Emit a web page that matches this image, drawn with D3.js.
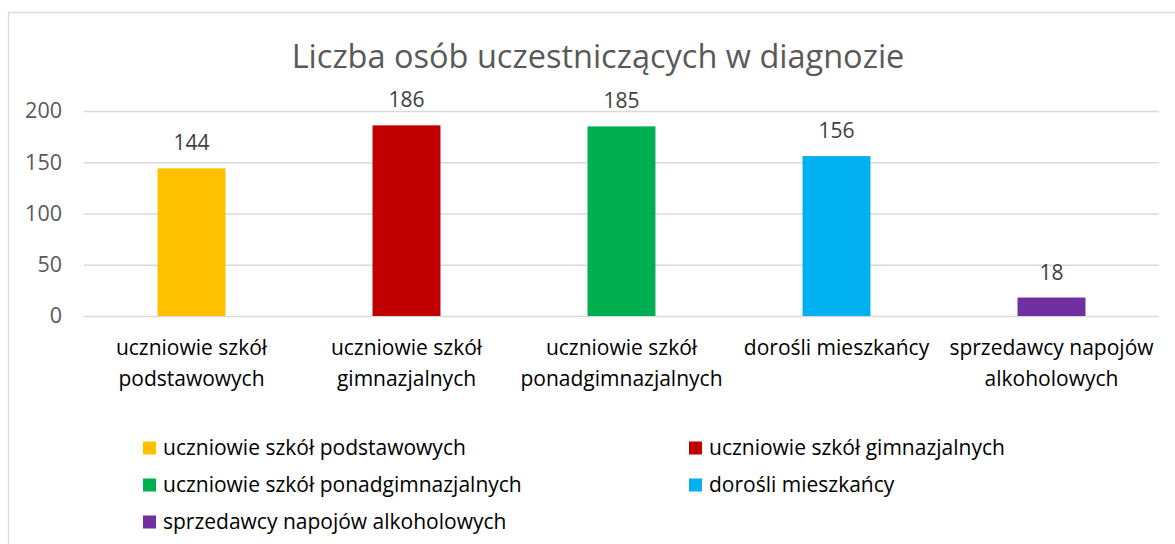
<!DOCTYPE html>
<html>
<head>
<meta charset="utf-8">
<script src="https://d3js.org/d3.v7.min.js"></script>
<style>
  body { margin: 0; background: white; }
  text { font-family: "Open Sans", sans-serif; }
</style>
</head>
<body>
<div id="chart"></div>
<script>
var categories = [
  ["uczniowie szkół", "podstawowych"],
  ["uczniowie szkół", "gimnazjalnych"],
  ["uczniowie szkół", "ponadgimnazjalnych"],
  ["dorośli mieszkańcy"],
  ["sprzedawcy napojów", "alkoholowych"]
];
var legendNames = [
  "uczniowie szkół podstawowych",
  "uczniowie szkół gimnazjalnych",
  "uczniowie szkół ponadgimnazjalnych",
  "dorośli mieszkańcy",
  "sprzedawcy napojów alkoholowych"
];
var values = [144, 186, 185, 156, 18];
var colors = ["#FFC000", "#C00000", "#00B050", "#00B0F0", "#7030A0"];
var yTicks = [0, 50, 100, 150, 200];

function draw()
{
  var width = 1175, height = 544;
  var left = 84, right = 1159, top = 111, bottom = 316;

  var svg = d3.select("#chart")
    .append("svg")
    .attr("width", width)
    .attr("height", height);

  // outer chart frame (right and bottom edges run off the page)
  svg.append("rect")
    .attr("x", 8.5)
    .attr("y", 12.5)
    .attr("width", 1200)
    .attr("height", 560)
    .style("fill", "white")
    .style("stroke", "#d9d9d9")
    .style("stroke-width", "1.3");

  svg.append("text")
    .attr("x", 598)
    .attr("y", 68)
    .attr("text-anchor", "middle")
    .style("font-size", "32.5px")
    .style("fill", "#595959")
    .text("Liczba osób uczestniczących w diagnozie");

  var xScale = d3.scaleBand()
    .domain(d3.range(values.length))
    .range([left, right])
    .paddingInner(0.684)
    .paddingOuter(0.342);

  var yScale = d3.scaleLinear()
    .domain([0, 200])
    .range([bottom, top]);

  var yAxis = d3.axisLeft(yScale)
    .tickValues(yTicks)
    .tickSize(left - right)
    .tickPadding(22);

  var gy = svg.append("g")
    .attr("transform", "translate(" + left + ",0)")
    .call(yAxis);
  gy.select(".domain").remove();
  gy.selectAll(".tick line")
    .style("stroke", "#d9d9d9")
    .style("stroke-width", "1.3");
  gy.selectAll(".tick text")
    .style("font-size", "21.5px")
    .style("fill", "#595959")
    .style("font-family", "'Open Sans', sans-serif");

  svg.selectAll(".bar")
    .data(values)
    .enter()
    .append("rect")
      .attr("class", "bar")
      .attr("x", function(d, i) {return xScale(i);})
      .attr("y", function(d) {return yScale(d);})
      .attr("width", xScale.bandwidth())
      .attr("height", function(d) {return yScale(0) - yScale(d);})
      .style("fill", function(d, i) {return colors[i];});

  svg.selectAll(".val")
    .data(values)
    .enter()
    .append("text")
      .attr("class", "val")
      .attr("x", function(d, i) {return xScale(i) + xScale.bandwidth() / 2;})
      .attr("y", function(d) {return yScale(d) - 18;})
      .attr("text-anchor", "middle")
      .style("font-size", "21px")
      .style("fill", "#404040")
      .text(function(d) {return d;});

  var cat = svg.selectAll(".cat")
    .data(categories)
    .enter()
    .append("text")
      .attr("class", "cat")
      .attr("text-anchor", "middle")
      .style("font-size", "21px")
      .style("fill", "#000");
  cat.selectAll("tspan")
    .data(function(d, i) {return d.map(function(t) {return {t: t, i: i};});})
    .enter()
    .append("tspan")
      .attr("x", function(d) {return xScale(d.i) + xScale.bandwidth() / 2;})
      .attr("y", function(d, j) {return 355 + j * 31;})
      .text(function(d) {return d.t;});

  // legend, two columns
  var legend = svg.append("g").attr("class", "legend");
  var item = legend.selectAll("g")
    .data(legendNames)
    .enter()
    .append("g")
      .attr("transform", function(d, i) {
        var x = (i % 2 === 0) ? 143 : 689;
        var y = 448 + Math.floor(i / 2) * 37;
        return "translate(" + x + "," + y + ")";
      });
  item.append("rect")
    .attr("x", 0)
    .attr("y", -6.5)
    .attr("width", 13)
    .attr("height", 13)
    .style("fill", function(d, i) {return colors[i];});
  item.append("text")
    .attr("x", 20)
    .attr("y", 7)
    .style("font-size", "21px")
    .style("fill", "#000")
    .text(function(d) {return d;});
}

window.onload = draw;
</script>
</body>
</html>
